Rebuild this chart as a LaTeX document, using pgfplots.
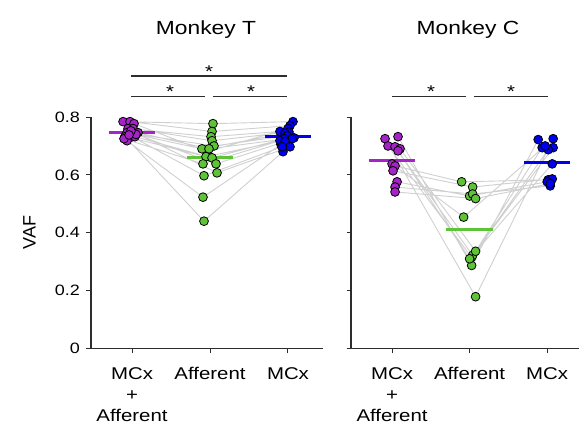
\documentclass[border=0pt]{standalone}
\usepackage{pgfplots}
\pgfplotsset{compat=1.18}
\usepackage{pgfplotstable}
\usepackage{fontspec}
\setmainfont{Liberation Sans}[FakeStretch=1.2]
\newfontfamily\plainfont{Liberation Sans}
\definecolor{mpurple}{RGB}{165,35,200}
\definecolor{mgreen}{RGB}{95,195,55}
\definecolor{mblue}{RGB}{0,0,240}
\definecolor{lgray}{RGB}{208,208,208}
\definecolor{axc}{RGB}{45,45,45}

% Monkey T: per session, MCx+Afferent (p), Afferent (g), MCx (b)
\pgfplotstableread{
x y grp
0.885 0.784 p
2.038 0.777 g
3.064 0.784 b
nan nan p
0.974 0.784 p
2.026 0.750 g
3.026 0.770 b
nan nan p
1.026 0.777 p
1.962 0.680 g
3.000 0.760 b
nan nan p
0.949 0.760 p
2.013 0.732 g
2.897 0.750 b
nan nan p
1.013 0.760 p
2.026 0.718 g
3.013 0.748 b
nan nan p
0.936 0.746 p
1.897 0.690 g
2.962 0.743 b
nan nan p
1.000 0.743 p
2.051 0.700 g
2.987 0.735 b
nan nan p
1.077 0.746 p
1.987 0.690 g
3.077 0.728 b
nan nan p
0.910 0.732 p
1.923 0.440 g
2.936 0.680 b
nan nan p
0.974 0.729 p
1.949 0.663 g
3.051 0.725 b
nan nan p
1.038 0.732 p
2.026 0.659 g
2.949 0.725 b
nan nan p
0.936 0.718 p
1.910 0.523 g
2.910 0.705 b
nan nan p
0.897 0.725 p
1.910 0.638 g
2.897 0.718 b
nan nan p
1.051 0.740 p
2.077 0.638 g
2.962 0.715 b
nan nan p
0.987 0.752 p
2.090 0.607 g
3.026 0.697 b
nan nan p
0.962 0.738 p
1.923 0.597 g
2.923 0.697 b
}\dataT

% Monkey C
\pgfplotstableread{
x y grp
0.910 0.725 p
2.077 0.179 g
3.077 0.725 b
nan nan p
1.077 0.732 p
2.026 0.287 g
2.884 0.722 b
nan nan p
0.948 0.700 p
2.026 0.315 g
2.935 0.694 b
nan nan p
1.039 0.697 p
2.039 0.322 g
3.077 0.694 b
nan nan p
1.103 0.690 p
2.077 0.336 g
3.013 0.687 b
nan nan p
1.077 0.683 p
2.000 0.310 g
3.065 0.638 b
nan nan p
1.000 0.638 p
1.923 0.454 g
2.974 0.700 b
nan nan p
1.039 0.631 p
1.897 0.576 g
3.013 0.583 b
nan nan p
1.013 0.614 p
2.039 0.558 g
3.065 0.586 b
nan nan p
1.065 0.576 p
2.000 0.527 g
3.000 0.576 b
nan nan p
1.039 0.558 p
2.039 0.534 g
3.039 0.562 b
nan nan p
1.039 0.541 p
2.077 0.518 g
3.039 0.570 b
}\dataC

\tikzset{
  sig/.style={axc, line width=1.4pt},
  star/.style={anchor=base, font=\fontsize{17}{18}\selectfont, inner sep=0pt},
  ttl/.style={anchor=base, font=\fontsize{19}{22}\selectfont, inner sep=0pt},
}
\pgfplotsset{
  panel/.style={
    scale only axis,
    height=231.5pt,
    ymin=0, ymax=0.8,
    axis x line*=bottom, axis y line*=left,
    axis line style={-, axc, line width=1.2pt},
    tick style={axc, line width=1pt},
    tick align=outside,
    major tick length=4.5pt,
    xtick={1,2,3},
    xticklabels={{MCx\\+\\Afferent},Afferent,MCx},
    xticklabel style={align=center, font=\fontsize{17}{21}\selectfont, yshift=-11pt},
    ytick={0,0.2,0.4,0.6,0.8},
    yticklabel style={font=\fontsize{15}{18}\selectfont, xshift=-3pt},
    /pgf/number format/assume math mode=true,
    clip=false,
  },
  conn/.style={lgray, line width=0.9pt, mark=none, unbounded coords=jump},
  pts/.style={scatter, only marks, mark=*, mark size=4.4pt,
    scatter src=explicit symbolic,
    mark options={line width=0.8pt},
    scatter/classes={p={fill=mpurple,draw=black}, g={fill=mgreen,draw=black}, b={fill=mblue,draw=black}}},
}

\begin{document}
\begin{tikzpicture}
\useasboundingbox (0,0) rectangle (582pt,428pt);
% Monkey T
\begin{axis}[panel, at={(91pt,79.5pt)}, anchor=south west, width=232pt,
  xmin=0.474, xmax=3.449,
  ylabel={\plainfont\fontsize{18}{20}\selectfont VAF},
  ylabel style={at={(axis description cs:-0.265,0.5)}, anchor=center, rotate=0}]
  \addplot[conn] table[x=x,y=y] {\dataT};
  \addplot[mpurple, line width=3pt] coordinates {(0.70,0.746) (1.30,0.746)};
  \addplot[mgreen, line width=3pt] coordinates {(1.70,0.659) (2.30,0.659)};
  \addplot[mblue, line width=3pt] coordinates {(2.70,0.732) (3.30,0.732)};
  \addplot[pts] table[x=x,y=y,meta=grp] {\dataT};
  \draw[sig] (axis cs:0.987,0.941) -- (axis cs:2.987,0.941);
  \draw[sig] (axis cs:0.987,0.870) -- (axis cs:1.936,0.870);
  \draw[sig] (axis cs:2.038,0.870) -- (axis cs:2.987,0.870);
  \node[star] at (axis cs:1.987,0.937) {*};
  \node[star] at (axis cs:1.487,0.866) {*};
  \node[star] at (axis cs:2.526,0.866) {*};
  \node[ttl] at (axis cs:1.949,1.085) {Monkey T};
\end{axis}
% Monkey C
\begin{axis}[panel, at={(351pt,79.5pt)}, anchor=south west, width=228pt,
  xmin=0.471, xmax=3.41,
  yticklabels={}]
  \addplot[conn] table[x=x,y=y] {\dataC};
  \addplot[mpurple, line width=3pt] coordinates {(0.70,0.648) (1.30,0.648)};
  \addplot[mgreen, line width=3pt] coordinates {(1.70,0.410) (2.30,0.410)};
  \addplot[mblue, line width=3pt] coordinates {(2.70,0.644) (3.30,0.644)};
  \addplot[pts] table[x=x,y=y,meta=grp] {\dataC};
  \draw[sig] (axis cs:1.000,0.870) -- (axis cs:1.948,0.870);
  \draw[sig] (axis cs:2.052,0.870) -- (axis cs:3.013,0.870);
  \node[star] at (axis cs:1.503,0.866) {*};
  \node[star] at (axis cs:2.535,0.866) {*};
  \node[ttl] at (axis cs:1.980,1.085) {Monkey C};
\end{axis}
\end{tikzpicture}
\end{document}
